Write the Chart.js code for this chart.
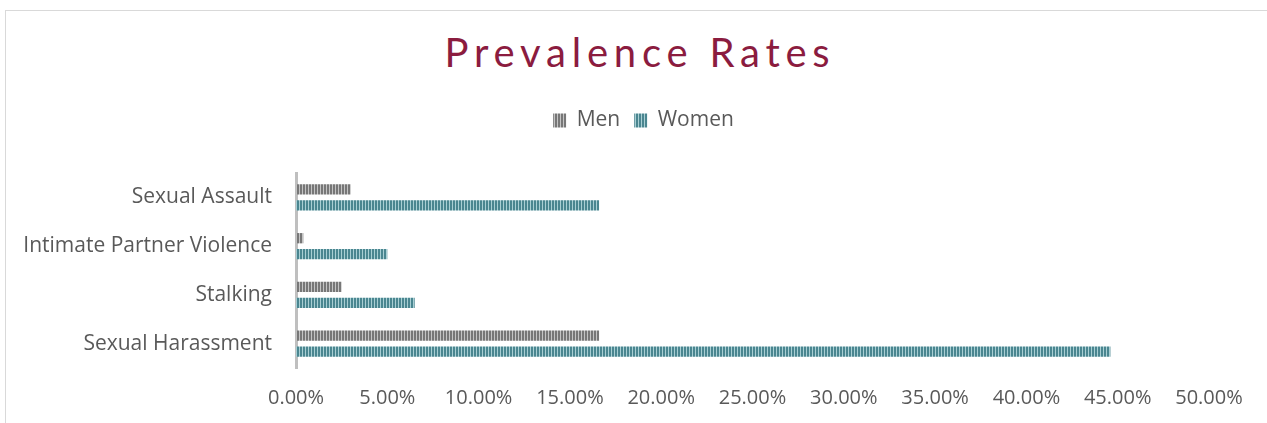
<!DOCTYPE html>
<html>
<head>
<meta charset="utf-8">
<script src="https://cdn.jsdelivr.net/npm/chart.js@4"></script>
<style>
  html, body { margin: 0; padding: 0; background: #fff; overflow: hidden; }
  #frame { position: absolute; left: 5px; top: 10px; width: 1300px; height: 450px; border: 1px solid #d9d9d9; box-sizing: border-box; }
  #title { position: absolute; left: 0; width: 1280px; top: 28px; text-align: center; font-family: Lato, "Open Sans", sans-serif; font-size: 40px; letter-spacing: 5.8px; color: #8b1c3f; }
  #wrap { position: absolute; left: 0; top: 0; width: 1267px; height: 423px; }
</style>
</head>
<body>
<div id="frame"></div>
<div id="title">Prevalence Rates</div>
<div id="wrap"><canvas id="prevChart"></canvas></div>
<script>
// chart data
const categories = ['Sexual Assault', 'Intimate Partner Violence', 'Stalking', 'Sexual Harassment'];
const menRates = [0.030, 0.004, 0.025, 0.166];
const womenRates = [0.166, 0.050, 0.065, 0.446];
const xTicks = [0, 0.05, 0.10, 0.15, 0.20, 0.25, 0.30, 0.35, 0.40, 0.45, 0.50];

// vertical stripe fill like the Excel pattern
function stripes(dark, light) {
    const c = document.createElement('canvas');
    c.width = 3; c.height = 3;
    const g = c.getContext('2d');
    g.fillStyle = light;
    g.fillRect(0, 0, 3, 3);
    g.fillStyle = dark;
    g.fillRect(0, 0, 2, 3);
    return g.createPattern(c, 'repeat');
}

// leave more room under the legend
const legendGap = {
    id: 'legendGap',
    afterInit(chart) {
        const lg = chart.legend;
        if (!lg) return;
        const fit = lg.fit;
        lg.fit = function () { fit.call(this); this.height += 32; };
    }
};

const ctx = document.getElementById('prevChart').getContext('2d');
new Chart(ctx, {
    type: 'bar',
    data: {
        labels: categories,
        datasets: [{
            label: 'Men',
            data: menRates,
            backgroundColor: stripes('#777777', '#c4c4c4'),
            categoryPercentage: 0.65,
            barPercentage: 0.65
        }, {
            label: 'Women',
            data: womenRates,
            backgroundColor: stripes('#4a8690', '#a9cfd4'),
            categoryPercentage: 0.65,
            barPercentage: 0.65
        }]
    },
    plugins: [legendGap],
    options: {
        indexAxis: 'y',
        responsive: true,
        maintainAspectRatio: false,
        animation: false,
        layout: { padding: { top: 96, left: 20, right: 0, bottom: 0 } },
        plugins: {
            title: { display: false },
            tooltip: { enabled: false },
            legend: {
                position: 'top',
                labels: {
                    boxWidth: 13,
                    boxHeight: 14,
                    padding: 14,
                    color: '#595959',
                    font: { family: 'Open Sans', size: 21 }
                }
            }
        },
        scales: {
            x: {
                min: 0,
                max: 0.5,
                afterBuildTicks: (s) => { s.ticks = xTicks.map(v => ({ value: v })); },
                afterFit: (s) => { s.height = 55; },
                grid: { display: false },
                border: { display: false },
                ticks: {
                    color: '#595959',
                    font: { family: 'Open Sans', size: 20 },
                    padding: 10,
                    maxRotation: 0,
                    callback: (v) => (v * 100).toFixed(2) + '%'
                }
            },
            y: {
                afterFit: (s) => { s.width = 276; },
                grid: { display: false },
                border: { display: true, color: '#bfbfbf', width: 3 },
                ticks: {
                    color: '#595959',
                    font: { family: 'Open Sans', size: 21 },
                    padding: 16
                }
            },
            // empty right-hand box, keeps room for the last tick label
            yRight: {
                type: 'category',
                position: 'right',
                afterFit: (s) => { s.width = 58; },
                grid: { display: false },
                border: { display: false },
                ticks: { display: false }
            }
        }
    }
});
</script>
</body>
</html>
